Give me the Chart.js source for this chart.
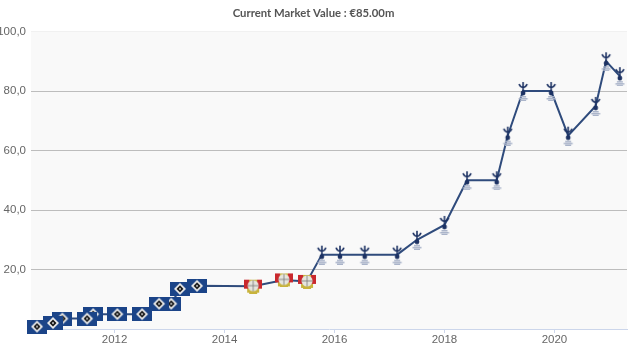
<!DOCTYPE html>
<html>
<head>
<meta charset="utf-8">
<style>
  html, body { margin: 0; padding: 0; background: #fff; }
</style>
<script src="https://cdn.jsdelivr.net/npm/chart.js@4"></script>
</head>
<body>
<canvas id="mvChart" width="640" height="355"></canvas>
<script>
// decimal years
const years = [2010.59, 2010.88, 2011.05, 2011.5, 2011.61, 2012.05, 2012.5, 2012.81, 2013.03, 2013.19, 2013.5,
  2014.52, 2015.08, 2015.5,
  2015.77, 2016.1, 2016.55, 2017.14, 2017.5, 2018.0, 2018.41, 2018.95, 2019.15, 2019.43, 2019.94, 2020.25, 2020.75, 2020.94, 2021.19];
const values = [0.8, 2, 3.5, 3.5, 5, 5, 5, 8.5, 8.5, 13.5, 14.5,
  14.4, 16.5, 16,
  25, 25, 25, 25, 30, 35, 50, 50, 65, 80, 80, 65, 75, 90, 85];
const clubs = ['hsv', 'hsv', 'hsv', 'hsv', 'hsv', 'hsv', 'hsv', 'hsv', 'hsv', 'hsv', 'hsv',
  'b04', 'b04', 'b04',
  'thfc', 'thfc', 'thfc', 'thfc', 'thfc', 'thfc', 'thfc', 'thfc', 'thfc', 'thfc', 'thfc', 'thfc', 'thfc', 'thfc', 'thfc'];
const titleText = 'Current Market Value : €85.00m';

function makeIcon(w, h, draw) {
  const c = document.createElement('canvas');
  c.width = w;
  c.height = h;
  draw(c.getContext('2d'));
  return c;
}

function diamond(ctx, x, y, r, color) {
  ctx.fillStyle = color;
  ctx.beginPath();
  ctx.moveTo(x, y - r);
  ctx.lineTo(x + r, y);
  ctx.lineTo(x, y + r);
  ctx.lineTo(x - r, y);
  ctx.closePath();
  ctx.fill();
}

// club crests as small canvases, used as point styles
const icons = {
  hsv: makeIcon(20, 14, ctx => {
    ctx.fillStyle = '#1b4488';
    ctx.fillRect(0, 0, 20, 14);
    diamond(ctx, 10, 7, 6, '#ececec');
    diamond(ctx, 10, 7, 3.5, '#111');
    diamond(ctx, 10, 7, 1.2, '#ddd');
  }),
  b04: makeIcon(18, 15, ctx => {
    ctx.fillStyle = '#c8b33c';
    ctx.fillRect(3, 1, 12, 13);
    ctx.fillRect(5, 13, 8, 2);
    ctx.fillStyle = '#c9282d';
    ctx.fillRect(0, 1, 5, 9);
    ctx.fillRect(13, 1, 5, 9);
    ctx.fillStyle = '#e6e6de';
    ctx.beginPath();
    ctx.arc(9, 7, 5.5, 0, Math.PI * 2);
    ctx.fill();
    ctx.strokeStyle = '#777';
    ctx.lineWidth = 0.8;
    ctx.beginPath();
    ctx.moveTo(3.5, 7);
    ctx.lineTo(14.5, 7);
    ctx.moveTo(9, 1.5);
    ctx.lineTo(9, 12.5);
    ctx.stroke();
  }),
  thfc: makeIcon(12, 20, ctx => {
    ctx.strokeStyle = '#1d3263';
    ctx.lineWidth = 1.6;
    ctx.beginPath();
    ctx.moveTo(2, 3);
    ctx.quadraticCurveTo(3, 6, 6, 6.5);
    ctx.quadraticCurveTo(9, 6, 10, 3);
    ctx.moveTo(6, 1);
    ctx.lineTo(6, 11);
    ctx.stroke();
    ctx.fillStyle = '#1d3263';
    ctx.beginPath();
    ctx.arc(6, 12, 2.4, 0, Math.PI * 2);
    ctx.fill();
    ctx.fillStyle = '#a9b3c9';
    ctx.fillRect(3, 15, 6, 1.5);
    ctx.fillRect(1.5, 17, 9, 1.5);
    ctx.fillRect(3, 18.8, 6, 1.2);
  })
};

const plotBackground = {
  id: 'plotBackground',
  beforeDraw(chart) {
    const a = chart.chartArea;
    chart.ctx.fillStyle = '#f9f9f9';
    chart.ctx.fillRect(a.left, a.top, a.width, a.height);
  }
};

new Chart(document.getElementById('mvChart').getContext('2d'), {
  type: 'line',
  data: {
    datasets: [{
      // last point first, so the earlier crests sit on top of the later ones
      data: years.map((y, i) => ({ x: y, y: values[i] })).reverse(),
      borderColor: '#2f4b7c',
      borderWidth: 2,
      tension: 0,
      clip: false,
      pointStyle: clubs.map(c => icons[c]).reverse(),
      pointRadius: 5
    }]
  },
  options: {
    responsive: false,
    animation: false,
    layout: { padding: { right: 13, bottom: 0 } },
    plugins: {
      legend: { display: false },
      tooltip: { enabled: false },
      title: {
        display: true,
        text: titleText,
        color: '#555',
        font: { family: 'Lato', size: 11.3, weight: 'bold' },
        padding: { top: 7, bottom: 11 }
      }
    },
    scales: {
      x: {
        type: 'linear',
        min: 2010.48,
        max: 2021.32,
        afterBuildTicks(axis) {
          axis.ticks = [2012, 2014, 2016, 2018, 2020].map(v => ({ value: v }));
        },
        afterFit(axis) { axis.height = 26; },
        ticks: {
          color: '#666',
          font: { family: '"Liberation Sans Narrow", "Liberation Sans"', size: 11.5 },
          maxRotation: 0,
          padding: 0,
          callback: v => String(v)
        },
        grid: { drawOnChartArea: false, color: '#ccd6eb', tickLength: 4 },
        border: { color: '#ccd6eb' }
      },
      y: {
        min: 0,
        max: 100,
        afterFit(axis) { axis.width = 31; },
        ticks: {
          stepSize: 20,
          color: '#666',
          font: { family: '"Liberation Sans Narrow", "Liberation Sans"', size: 11.5 },
          padding: 5,
          callback: v => v === 0 ? '' : v.toFixed(1).replace('.', ',')
        },
        grid: {
          drawTicks: false,
          color: ctx => ctx.tick.value === 100 ? '#f1f1f1' : (ctx.tick.value === 0 ? 'rgba(0,0,0,0)' : '#bdbdbd')
        },
        border: { display: false }
      }
    }
  },
  plugins: [plotBackground]
});
</script>
</body>
</html>
